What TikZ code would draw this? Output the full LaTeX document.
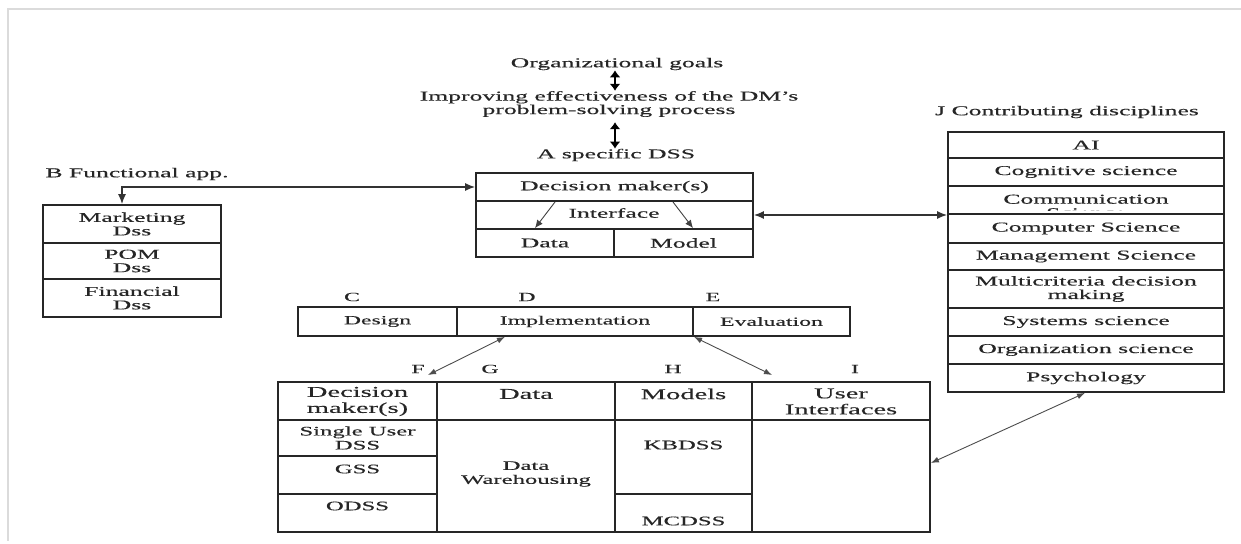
\documentclass[tikz,border=0pt]{standalone}
\usepackage{fontspec}
\setmainfont{Liberation Serif}[FakeStretch=1.9,FakeBold=0.35]
\usetikzlibrary{arrows.meta}
\begin{document}
\begin{tikzpicture}[x=1pt,y=-1pt,
  cell/.style={draw=black!85, line width=1.8pt, inner sep=0pt, align=center, text=black!85,
               font=\fontsize{13.5}{13.5}\selectfont},
  lbl/.style={inner sep=0pt, align=center, text=black!85, font=\fontsize{13.5}{13.5}\selectfont},
  cde/.style={inner sep=0pt, align=center, text=black!85, font=\fontsize{12.5}{12.5}\selectfont},
  tbh/.style={inner sep=0pt, align=center, text=black!85, font=\fontsize{15}{16}\selectfont},
  tbb/.style={inner sep=0pt, align=center, text=black!85, font=\fontsize{13}{14}\selectfont},
  arr/.style={line width=1.4pt, draw=black!80, {Latex[length=10pt,width=8pt]}-{Latex[length=10pt,width=8pt]}},
  thin/.style={line width=0.9pt, draw=black!70, {Latex[length=8pt,width=6pt]}-{Latex[length=8pt,width=6pt]}},
  big/.style={line width=2pt, draw=black, {Latex[length=7pt,width=11pt]}-{Latex[length=7pt,width=11pt]}},
  down/.style={line width=0.9pt, draw=black!75, -{Latex[length=8pt,width=7pt]}}
]
\useasboundingbox (0,0) rectangle (1241,543);
% light frame
\draw[draw=black!14, line width=2pt] (1241,9) -- (8,9) -- (8,541);

% top texts
\node[lbl] (goals) at (617,64) {Organizational goals};
\node[lbl] (improve) at (609,104) {Improving effectiveness of the DM's\\problem-solving process};
\node[lbl] (adss) at (616,155) {A specific DSS};
\draw[big] (goals.south -| 615,0) -- (improve.north -| 615,0);
\draw[big, shorten <=5pt] (improve.south -| 615,0) -- (adss.north -| 615,0);

% DSS box
\node[cell, minimum width=277pt, minimum height=28pt] (dm) at (614.5,187) {Decision maker(s)};
\node[cell, minimum width=277pt, minimum height=28pt] (intf) at (614.5,215) {};
\node[lbl] (intft) at (614,213) {Interface};
\node[cell, minimum width=138pt, minimum height=28pt] (data) at (545,243) {Data};
\node[cell, minimum width=139pt, minimum height=28pt] (model) at (683.5,243) {Model};
\coordinate (ia1) at (555,202);
\coordinate (ia2) at (673,202);
\draw[down] (ia1) -- (data.north -| 535,0);
\draw[down] (ia2) -- (model.north -| 693,0);

% B functional app
\node[lbl] (blab) at (137,174) {B Functional app.};
\node[cell, minimum width=178pt, minimum height=38pt] (mkt) at (132,224) {Marketing\\Dss};
\node[cell, minimum width=178pt, minimum height=36pt] (pom) at (132,261) {POM\\Dss};
\node[cell, minimum width=178pt, minimum height=38pt] (fin) at (132,298) {Financial\\Dss};
\coordinate (bc) at (122,187);
\draw[arr] (dm.west) -| (mkt.north -| bc);

% J contributing disciplines
\node[lbl] (jlab) at (1067,112) {J Contributing disciplines};
\node[cell, minimum width=276pt, minimum height=26pt] (j1) at (1086,145) {AI};
\node[cell, minimum width=276pt, minimum height=28pt] (j2) at (1086,172) {Cognitive science};
\node[cell, minimum width=276pt, minimum height=28pt] (j3) at (1086,200) {};
\begin{scope}
  \clip (948,186) rectangle (1224,210.5);
  \node[lbl] (j3t) at (1086,206) {Communication\\Science};
\end{scope}
\node[cell, minimum width=276pt, minimum height=29pt] (j4) at (1086,228.5) {Computer Science};
\node[cell, minimum width=276pt, minimum height=27pt] (j5) at (1086,256.5) {Management Science};
\node[cell, minimum width=276pt, minimum height=38pt] (j6) at (1086,289) {Multicriteria decision\\making};
\node[cell, minimum width=276pt, minimum height=28pt] (j7) at (1086,322) {Systems science};
\node[cell, minimum width=276pt, minimum height=28pt] (j8) at (1086,350) {Organization science};
\node[cell, minimum width=276pt, minimum height=28pt] (j9) at (1086,378) {Psychology};
\draw[arr] (intf.east) -- (intf.east -| j4.west);

% C D E
\node[cde] (clab) at (352,297) {C};
\node[cde] (dlab) at (527,297) {D};
\node[cde] (elab) at (713,297) {E};
\node[cell, font=\fontsize{12.5}{12.5}\selectfont, minimum width=159pt, minimum height=29pt] (design) at (377.5,321.5) {Design};
\node[cell, font=\fontsize{12.5}{12.5}\selectfont, minimum width=236pt, minimum height=29pt] (impl) at (575,321.5) {Implementation};
\node[cell, font=\fontsize{12.5}{12.5}\selectfont, minimum width=157pt, minimum height=29pt] (eval) at (771.5,321.5) {Evaluation};

% F G H I
\node[cde] (flab) at (418,369) {F};
\node[cde] (glab) at (490,369) {G};
\node[cde] (hlab) at (673,369) {H};
\node[cde] (ilab) at (855,369) {I};
\coordinate (fA) at (428,375);
\coordinate (iA) at (772,375);
\draw[thin] (impl.south -| 505,0) -- (fA);
\draw[thin] (impl.south -| 694,0) -- (iA);

% bottom table
\node[cell, minimum width=159pt, minimum height=38pt] (hF) at (357.5,401) {};
\node[cell, minimum width=178pt, minimum height=38pt] (hG) at (526,401) {};
\node[cell, minimum width=137pt, minimum height=38pt] (hH) at (683.5,401) {};
\node[cell, minimum width=178pt, minimum height=38pt] (hI) at (841,401) {};
\node[tbh] (hFt) at (357.5,401.5) {Decision\\maker(s)};
\node[tbh] (hGt) at (526,394) {Data};
\node[tbh] (hHt) at (683.5,394) {Models};
\node[tbh] (hIt) at (841,401.5) {User\\Interfaces};

\node[cell, minimum width=159pt, minimum height=36pt] (s1) at (357.5,438) {};
\node[cell, minimum width=159pt, minimum height=38pt] (s2) at (357.5,475) {};
\node[cell, minimum width=159pt, minimum height=38pt] (s3) at (357.5,513) {};
\node[tbb] (s1t) at (357.5,438) {Single User\\DSS};
\node[tbb] (s2t) at (357.5,469) {GSS};
\node[tbb] (s3t) at (357.5,506) {ODSS};

\node[cell, minimum width=178pt, minimum height=112pt] (dw) at (526,476) {};
\node[tbb] (dwt) at (526,474) {Data\\Warehousing};

\node[cell, minimum width=137pt, minimum height=74pt] (kb) at (683.5,457) {};
\node[cell, minimum width=137pt, minimum height=38pt] (mc) at (683.5,513) {};
\node[tbb] (kbt) at (683.5,445) {KBDSS};
\node[tbb] (mct) at (683.5,521) {MCDSS};

\node[cell, minimum width=178pt, minimum height=112pt] (ui) at (841,476) {};

\draw[thin] (ui.east |- 0,463) -- (j9.south -| 1085,0);
\end{tikzpicture}
\end{document}
